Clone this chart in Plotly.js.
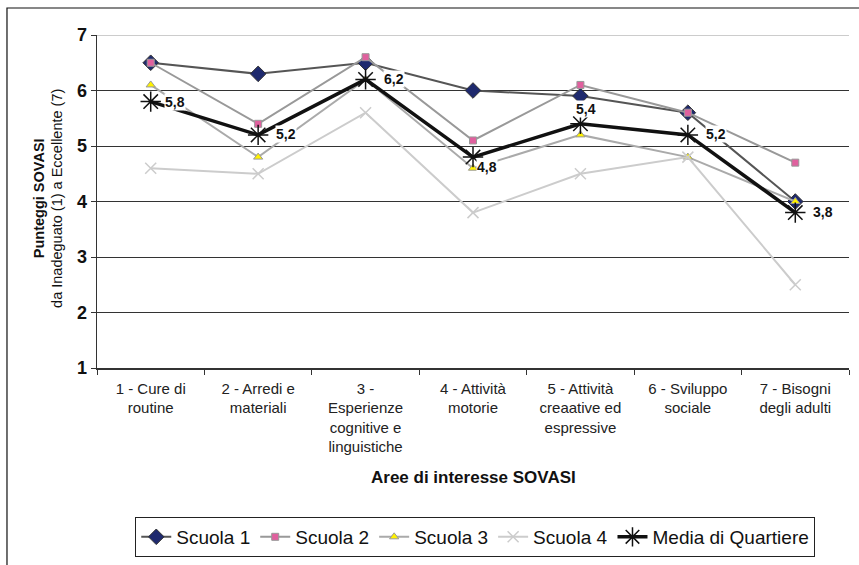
<!DOCTYPE html>
<html>
<head>
<meta charset="utf-8">
<script src="https://cdn.plot.ly/plotly-3.0.1.min.js"></script>
<style>html,body{margin:0;padding:0;background:#fff;}#chart{width:859px;height:565px;}</style>
</head>
<body>
<div id="chart"></div>
<script>
const categories = [
  "1 - Cure di<br>routine",
  "2 - Arredi e<br>materiali",
  "3 -<br>Esperienze<br>cognitive e<br>linguistiche",
  "4 - Attività<br>motorie",
  "5 - Attività<br>creaative ed<br>espressive",
  "6 - Sviluppo<br>sociale",
  "7 - Bisogni<br>degli adulti"
];
const scuola1 = [6.5, 6.3, 6.5, 6.0, 5.9, 5.6, 4.0];
const scuola2 = [6.5, 5.4, 6.6, 5.1, 6.1, 5.6, 4.7];
const scuola3 = [6.1, 4.8, 6.2, 4.6, 5.2, 4.8, 4.0];
const scuola4 = [4.6, 4.5, 5.6, 3.8, 4.5, 4.8, 2.5];
const media   = [5.8, 5.2, 6.2, 4.8, 5.4, 5.2, 3.8];
const yTicks = [1, 2, 3, 4, 5, 6, 7];

// label offsets (style only): [xshift, yshift, xanchor]
const labelOffsets = [[13,0,'left'],[17,1,'left'],[17,0,'left'],[3,-10,'left'],[6,15,'center'],[17,1,'left'],[17,1,'left']];

const font = "Liberation Sans, Arial, sans-serif";

const traces = [
  {name:"Scuola 1", x:categories, y:scuola1, type:"scatter", mode:"lines+markers",
   line:{color:"#555555", width:2}, marker:{symbol:"diamond", size:12, color:"#1F2A6E", line:{color:"#333", width:1}}},
  {name:"Scuola 2", x:categories, y:scuola2, type:"scatter", mode:"lines+markers",
   line:{color:"#999999", width:2}, marker:{symbol:"square", size:7, color:"#E0609E", line:{color:"#999", width:1}}},
  {name:"Scuola 3", x:categories, y:scuola3, type:"scatter", mode:"lines+markers",
   line:{color:"#AAAAAA", width:2}, marker:{symbol:"triangle-up", size:8, color:"#FFF200", line:{color:"#999", width:1}}},
  {name:"Scuola 4", x:categories, y:scuola4, type:"scatter", mode:"lines+markers",
   line:{color:"#CCCCCC", width:2}, marker:{symbol:"x-thin-open", size:11, color:"#CCCCCC", line:{color:"#CCCCCC", width:1.5}}},
  {name:"Media di Quartiere", x:categories, y:media, type:"scatter", mode:"lines+markers",
   line:{color:"#111111", width:3.5}, marker:{symbol:"asterisk-open", size:17, color:"#111", line:{color:"#111", width:1.5}}}
];

const annotations = media.map((v, i) => ({
  x: categories[i], y: v, xref:"x", yref:"y",
  text: "<b>" + v.toFixed(1).replace(".", ",") + "</b>",
  showarrow:false, xanchor: labelOffsets[i][2], yanchor:"middle",
  xshift: labelOffsets[i][0], yshift: labelOffsets[i][1],
  bgcolor:"#ffffff", borderpad:0,
  font:{family:font, size:14, color:"#111"}
}));

annotations.push({
  text:"<b>Aree di interesse SOVASI</b>", xref:"paper", yref:"paper",
  x:0.5, y:-0.33, xanchor:"center", yanchor:"middle", showarrow:false,
  font:{family:font, size:17, color:"#111"}
});
annotations.push({
  text:"<b>Punteggi SOVASI</b><br>da Inadeguato (1) a Eccellente (7)", xref:"paper", yref:"paper",
  x:-0.0655, y:0.51, xanchor:"center", yanchor:"middle", showarrow:false, textangle:-90,
  font:{family:font, size:14.5, color:"#111"}
});

const layout = {
  width:859, height:565,
  margin:{l:97, r:10, t:35, b:197, pad:0, autoexpand:false},
  paper_bgcolor:"#ffffff", plot_bgcolor:"#ffffff",
  font:{family:font, color:"#111"},
  showlegend:true,
  legend:{orientation:"h", xref:"paper", x:0.503, xanchor:"center", yref:"container", y:0.085, yanchor:"top",
    bordercolor:"#222", borderwidth:1, font:{family:font, size:19, color:"#111"},
    itemwidth:30, tracegroupgap:0},
  xaxis:{type:"category", range:[-0.5, 6.5], showline:true, linecolor:"#333", linewidth:1.5,
    ticks:"outside", ticklen:5, tickcolor:"#333", tickson:"boundaries",
    showgrid:false, zeroline:false, tickangle:0, ticklabelstandoff:6,
    tickfont:{family:font, size:15, color:"#222"}},
  yaxis:{range:[1,7], tickvals:yTicks, showline:true, linecolor:"#333", linewidth:1.5,
    ticks:"outside", ticklen:5, tickcolor:"#333", showgrid:true, gridcolor:"#333", gridwidth:1,
    zeroline:false, tickfont:{family:font, size:18, color:"#111", weight:"bold"}},
  shapes:[
    {type:"line", xref:"paper", yref:"y", x0:0, x1:1, y0:7, y1:7, line:{color:"#CCCCCC", width:2}, layer:"above"},
    {type:"rect", xref:"paper", yref:"paper", x0:-0.1197, x1:1.2, y0:1.0811, y1:-1.0,
     line:{color:"#111", width:1.2}, fillcolor:"rgba(0,0,0,0)", layer:"below"}
  ],
  annotations: annotations
};

Plotly.newPlot("chart", traces, layout, {displayModeBar:false, staticPlot:true});
</script>
</body>
</html>
